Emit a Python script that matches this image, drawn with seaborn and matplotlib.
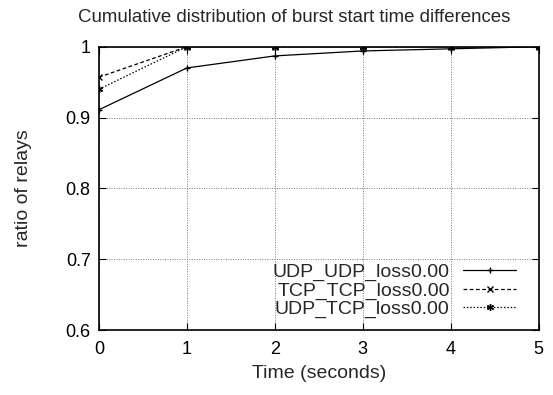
import matplotlib
matplotlib.use("Agg")
import matplotlib.pyplot as plt
import seaborn as sns
import pandas as pd
from matplotlib.lines import Line2D

times = [0, 1, 2, 3, 4, 5]
udp_udp = [0.911, 0.970, 0.987, 0.994, 0.997, 1.0]
tcp_tcp = [0.957, 1.0, 1.0, 1.0, 1.0, 1.0]
udp_tcp = [0.940, 1.0, 1.0, 1.0, 1.0, 1.0]
series_names = ["UDP_UDP_loss0.00", "TCP_TCP_loss0.00", "UDP_TCP_loss0.00"]
x_ticks = [0, 1, 2, 3, 4, 5]
y_ticks = [0.6, 0.7, 0.8, 0.9, 1.0]
y_tick_labels = ["0.6", "0.7", "0.8", "0.9", "1"]

df = pd.DataFrame({
    "time": times * 3,
    "ratio": udp_udp + tcp_tcp + udp_tcp,
    "series": [series_names[0]] * 6 + [series_names[1]] * 6 + [series_names[2]] * 6,
})

sns.set_style("white")
plt.rcParams["font.family"] = ["Liberation Sans", "DejaVu Sans"]
FS_TICK = 13
FS = 14

fig = plt.figure(figsize=(5.53, 3.95), dpi=100)
ax = fig.add_axes([99 / 553, 1 - 330 / 395, (538.5 - 99) / 553, (330 - 46.7) / 395])

dashes = {series_names[0]: "", series_names[1]: (3, 2), series_names[2]: (1.2, 1.5)}
markers = {series_names[0]: "+", series_names[1]: "x", series_names[2]: (6, 2, 0)}
sns.lineplot(data=df, x="time", y="ratio", hue="series", style="series",
             palette=["black"] * 3, dashes=dashes, markers=markers,
             markersize=5, markeredgewidth=1.0, markeredgecolor="black",
             linewidth=0.9, ax=ax, legend=False, zorder=3)

handles = [
    Line2D([], [], color="black", lw=0.9, ls="-", marker="+", ms=5, mew=1.0, mec="black"),
    Line2D([], [], color="black", lw=0.9, ls=(0, (3, 2)), marker="x", ms=4, mew=1.0, mec="black"),
    Line2D([], [], color="black", lw=0.9, ls=(0, (1.2, 1.5)), marker=(6, 2, 0), ms=5, mew=1.0, mec="black"),
]
ax.legend(handles, series_names, loc="lower right", frameon=False, markerfirst=False,
          fontsize=FS, handlelength=2.7, handletextpad=0.7, labelspacing=0.05,
          borderaxespad=0.2, bbox_to_anchor=(0.975, 0.0))

ax.set_xlim(0, 5)
ax.set_ylim(0.6, 1.0)
ax.set_xticks(x_ticks)
ax.set_xticklabels([str(t) for t in x_ticks], fontsize=FS_TICK)
ax.set_yticks(y_ticks)
ax.set_yticklabels(y_tick_labels, fontsize=FS_TICK)
ax.tick_params(direction="in", length=5, width=0.8, top=True, right=True,
               bottom=True, left=True, pad=8, colors="black")
ax.tick_params(axis="y", pad=6)
ax.grid(True, color="#777777", linestyle=(0, (1, 1.5)), linewidth=0.7)
for s in ax.spines.values():
    s.set_color("black")
    s.set_linewidth(1.2)
    s.set_visible(True)

ax.set_xlabel("Time (seconds)", fontsize=FS, labelpad=5)
ax.set_ylabel("ratio of relays", fontsize=FS, labelpad=24)
fig.text(294 / 553, 1 - 17 / 395, "Cumulative distribution of burst start time differences",
         ha="center", va="center", fontsize=13.4)

fig.savefig("out.png", dpi=100)
